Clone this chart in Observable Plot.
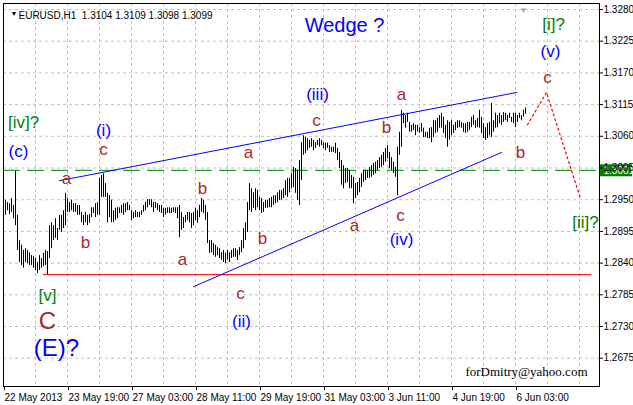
<!DOCTYPE html>
<html><head><meta charset="utf-8">
<script src="https://cdn.jsdelivr.net/npm/d3@7"></script>
<script src="https://cdn.jsdelivr.net/npm/@observablehq/plot@0.6"></script>
<style>body{margin:0;background:#fff;}</style>
</head><body><div id="chart"></div>
<script>
// EURUSD H1 bars (highs / lows), one per hour, weekend hours skipped
const barHigh = [
1.2949,1.2945,1.2943,1.2952,1.2940,1.2999,1.2923,1.2879,1.2871,1.2862,
1.2865,1.2862,1.2858,1.2853,1.2851,1.2848,1.2841,1.2853,1.2848,1.2857,
1.2862,1.2860,1.2905,1.2910,1.2905,1.2917,1.2900,1.2923,1.2923,1.2931,
1.2961,1.2952,1.2945,1.2949,1.2943,1.2943,1.2940,1.2940,1.2928,1.2923,
1.2928,1.2923,1.2924,1.2936,1.2936,1.2943,1.2945,1.2987,1.2992,1.2995,
1.2978,1.2961,1.2957,1.2949,1.2931,1.2935,1.2936,1.2936,1.2940,1.2943,
1.2943,1.2945,1.2940,1.2931,1.2928,1.2931,1.2928,1.2928,1.2931,1.2940,
1.2945,1.2950,1.2950,1.2950,1.2945,1.2945,1.2943,1.2940,1.2940,1.2935,
1.2935,1.2936,1.2936,1.2935,1.2936,1.2936,1.2936,1.2940,1.2928,1.2919,
1.2923,1.2928,1.2928,1.2926,1.2928,1.2935,1.2931,1.2940,1.2952,1.2949,
1.2940,1.2928,1.2879,1.2879,1.2874,1.2871,1.2867,1.2865,1.2858,1.2862,
1.2857,1.2862,1.2858,1.2862,1.2865,1.2865,1.2862,1.2867,1.2879,1.2900,
1.2910,1.2945,1.2978,1.2969,1.2962,1.2969,1.2966,1.2954,1.2952,1.2945,
1.2949,1.2949,1.2952,1.2954,1.2957,1.2957,1.2962,1.2966,1.2966,1.2969,
1.2983,1.2987,1.2987,1.2995,1.3006,1.3004,1.3001,1.3018,1.3049,1.3061,
1.3058,1.3056,1.3053,1.3056,1.3053,1.3049,1.3053,1.3056,1.3053,1.3049,
1.3048,1.3048,1.3044,1.3041,1.3041,1.3048,1.3039,1.3032,1.3018,1.3009,
1.3004,1.3004,1.3001,1.2992,1.2989,1.2978,1.2980,1.2987,1.2995,1.3001,
1.3001,1.3001,1.3006,1.3009,1.3013,1.3015,1.3018,1.3023,1.3027,1.3032,
1.3039,1.3044,1.3032,1.3023,1.3015,1.3006,1.3041,1.3067,1.3105,1.3100,
1.3096,1.3100,1.3084,1.3079,1.3082,1.3079,1.3079,1.3075,1.3082,1.3074,
1.3067,1.3067,1.3074,1.3075,1.3087,1.3087,1.3091,1.3096,1.3100,1.3093,
1.3079,1.3087,1.3084,1.3087,1.3079,1.3084,1.3087,1.3087,1.3084,1.3082,
1.3082,1.3084,1.3084,1.3093,1.3096,1.3087,1.3091,1.3105,1.3093,1.3082,
1.3075,1.3082,1.3084,1.3117,1.3087,1.3100,1.3096,1.3100,1.3096,1.3101,
1.3100,1.3096,1.3100,1.3093,1.3100,1.3100,1.3096,1.3100,1.3096,1.3105,1.3109];
const barLow = [
1.2923,1.2931,1.2924,1.2928,1.2917,1.2905,1.2862,1.2841,1.2836,1.2831,
1.2841,1.2839,1.2836,1.2836,1.2831,1.2827,1.2822,1.2827,1.2831,1.2834,
1.2836,1.2820,1.2848,1.2865,1.2879,1.2883,1.2879,1.2897,1.2893,1.2900,
1.2905,1.2928,1.2928,1.2931,1.2928,1.2928,1.2923,1.2923,1.2910,1.2905,
1.2910,1.2905,1.2909,1.2919,1.2926,1.2919,1.2923,1.2923,1.2954,1.2954,
1.2954,1.2910,1.2919,1.2910,1.2910,1.2914,1.2917,1.2926,1.2926,1.2923,
1.2928,1.2931,1.2931,1.2914,1.2917,1.2919,1.2919,1.2919,1.2923,1.2928,
1.2931,1.2936,1.2940,1.2936,1.2928,1.2935,1.2931,1.2928,1.2926,1.2919,
1.2923,1.2926,1.2926,1.2926,1.2928,1.2926,1.2917,1.2884,1.2897,1.2900,
1.2910,1.2914,1.2910,1.2900,1.2905,1.2914,1.2909,1.2919,1.2928,1.2926,
1.2914,1.2874,1.2857,1.2858,1.2853,1.2850,1.2853,1.2848,1.2845,1.2841,
1.2839,1.2845,1.2841,1.2848,1.2850,1.2850,1.2845,1.2853,1.2858,1.2865,
1.2879,1.2893,1.2931,1.2928,1.2935,1.2931,1.2936,1.2931,1.2926,1.2928,
1.2935,1.2935,1.2936,1.2936,1.2940,1.2943,1.2945,1.2949,1.2949,1.2952,
1.2957,1.2954,1.2962,1.2969,1.2971,1.2961,1.2949,1.2940,1.2983,1.3027,
1.3030,1.3035,1.3039,1.3041,1.3035,1.3039,1.3044,1.3041,1.3044,1.3039,
1.3035,1.3039,1.3032,1.3032,1.3032,1.3030,1.3018,1.3004,1.2975,1.2969,
1.2978,1.2980,1.2969,1.2969,1.2943,1.2952,1.2957,1.2962,1.2971,1.2980,
1.2983,1.2987,1.2987,1.2989,1.2992,1.2995,1.3001,1.3004,1.3006,1.3009,
1.3015,1.3021,1.3004,1.3001,1.2995,1.2989,1.2957,1.3027,1.3041,1.3082,
1.3074,1.3084,1.3067,1.3067,1.3070,1.3061,1.3067,1.3065,1.3067,1.3058,
1.3058,1.3056,1.3056,1.3049,1.3058,1.3065,1.3067,1.3074,1.3074,1.3065,
1.3056,1.3041,1.3053,1.3061,1.3065,1.3070,1.3074,1.3075,1.3074,1.3067,
1.3065,1.3067,1.3070,1.3075,1.3079,1.3074,1.3075,1.3074,1.3065,1.3056,
1.3053,1.3056,1.3061,1.3058,1.3067,1.3074,1.3075,1.3082,1.3079,1.3084,
1.3087,1.3084,1.3091,1.3084,1.3082,1.3075,1.3084,1.3091,1.3087,1.3093,1.3098];

const yTicks = [1.3280,1.3225,1.3170,1.3115,1.3060,1.3005,1.2950,1.2895,1.2840,1.2785,1.2730,1.2675];
const xTickBars = [-1,31,63,95,127,159,191,223,255];
const xTickLabels = ["22 May 2013","23 May 19:00","27 May 03:00","28 May 11:00","29 May 19:00","31 May 03:00","3 Jun 11:00","4 Jun 19:00","6 Jun 03:00"];
const gridBars = [15,31,47,63,79,95,111,127,143,159,175,191,207,223,239,255,271,287];
const headerText = "EURUSD,H1  1.3104 1.3109 1.3098 1.3099";
const watermark = "forDmitry@yahoo.com";
const titleText = "Wedge ?";
const titleBar = 169.5, titlePrice = 1.3252;

// wedge lines, support, level, projection
const upperBar = [27, 255.5], upperPrice = [1.2983, 1.3136];
const lowerBar = [94, 248], lowerPrice = [1.2799, 1.3032];
const supportPrice = 1.2820, supportBars = [19, 293];
const levelPrice = 1.3001, levelLabel = "1.3001";
const projBar = [261, 270.5, 287.5], projPrice = [1.3080, 1.3136, 1.2952];

// wave labels
const brownText  = ["a","c","b","b","a","c","a","b","c","a","b","c","a","b","c"];
const brownBar   = [30.5,49,40,98.5,88.5,117.5,121.5,128.5,155.5,174.5,190.5,197.5,198,257.5,271];
const brownPrice = [1.2987,1.3037,1.2876,1.2969,1.2846,1.2787,1.3032,1.2883,1.3087,1.2905,1.3075,1.2923,1.3133,1.3032,1.3162];
const bigBrownText = ["C"], bigBrownBar = [21], bigBrownPrice = [1.2739];
const blueText  = ["(c)","(i)","(iii)","(ii)","(iv)","(v)"];
const blueBar   = [6.5,49,156,118,198,272.5];
const bluePrice = [1.3034,1.3070,1.3133,1.2739,1.2881,1.3207];
const bigBlueText = ["(E)?"], bigBlueBar = [25.5], bigBluePrice = [1.2692];
const greenText  = ["[iv]?","[v]","[i]?","[ii]?"];
const greenBar   = [9,21,274,290];
const greenPrice = [1.3084,1.2784,1.3254,1.2910];

const bars = barHigh.map((h, i) => i);
const tickMap = new Map(xTickBars.map((b, i) => [b, xTickLabels[i]]));
const pts = (bs, ps) => bs.map((b, i) => ({b, p: ps[i]}));
const F = "Liberation Sans, Arial, sans-serif";
const brown = "#a52a2a";

const chart = Plot.plot({
  width: 633, height: 405,
  marginLeft: 3, marginRight: 34, marginTop: 3, marginBottom: 19,
  x: {type: "linear", domain: [-1, 297], label: null},
  y: {type: "linear", domain: [1.26259, 1.32904], label: null},
  style: {background: "white", fontFamily: F, fontSize: "10px", color: "black", overflow: "visible"},
  marks: [
    Plot.gridY(yTicks, {stroke: "#c0c0c0", strokeOpacity: 1, strokeDasharray: "3,3"}),
    Plot.gridX(gridBars, {stroke: "#c0c0c0", strokeOpacity: 1, strokeDasharray: "3,3"}),
    Plot.ruleY([levelPrice], {stroke: "#008000", strokeDasharray: "17,7"}),
    Plot.ruleY([supportPrice], {x1: supportBars[0], x2: supportBars[1], stroke: "red"}),
    Plot.line(pts(upperBar, upperPrice), {x: "b", y: "p", stroke: "blue", strokeWidth: 1}),
    Plot.line(pts(lowerBar, lowerPrice), {x: "b", y: "p", stroke: "blue", strokeWidth: 1}),
    Plot.ruleX(bars, {x: d => d, y1: d => barLow[d], y2: d => barHigh[d], stroke: "black", strokeWidth: 1}),
    Plot.line(pts(projBar, projPrice), {x: "b", y: "p", stroke: "red", strokeWidth: 1.2, strokeDasharray: "2,3"}),
    Plot.frame({stroke: "black"}),
    // current level label box
    Plot.ruleY([levelPrice], {x1: 297.5, x2: 313.5, stroke: "#008000", strokeWidth: 12}),
    Plot.text([levelLabel], {x: 297, y: levelPrice, dx: 4, textAnchor: "start", fill: "white", fontSize: 10}),
    Plot.axisY(yTicks, {anchor: "right", tickSize: 3, tickPadding: 1, tickFormat: d => d.toFixed(4), fontSize: 10}),
    Plot.axisX(xTickBars, {anchor: "bottom", tickSize: 4, tickPadding: 3, tickFormat: d => tickMap.get(d), textAnchor: "start", dx: 1, fontSize: 10}),
    // header & watermark
    Plot.text(["▼"], {frameAnchor: "top-left", dx: 7, dy: 8, fontSize: 7, textAnchor: "start"}),
    Plot.text([headerText], {frameAnchor: "top-left", dx: 15, dy: 8, textAnchor: "start", fontSize: 10}),
    Plot.text(["▼"], {x: 259, frameAnchor: "top", dy: 4, fill: "#a0a0a0", fontSize: 8}),
    Plot.text([watermark], {frameAnchor: "bottom-right", dx: -12, dy: -11, textAnchor: "end", fontFamily: "Liberation Serif, Times New Roman, serif", fontSize: 13}),
    Plot.text([titleText], {x: titleBar, y: titlePrice, fill: "blue", fontSize: 20, fontFamily: F}),
    // wave labels
    Plot.text(brownText, {x: (d, i) => brownBar[i], y: (d, i) => brownPrice[i], text: d => d, fill: brown, fontSize: 17, fontFamily: F}),
    Plot.text(bigBrownText, {x: (d, i) => bigBrownBar[i], y: (d, i) => bigBrownPrice[i], text: d => d, fill: brown, fontSize: 24, fontFamily: F}),
    Plot.text(blueText, {x: (d, i) => blueBar[i], y: (d, i) => bluePrice[i], text: d => d, fill: "blue", fontSize: 17, fontFamily: F}),
    Plot.text(bigBlueText, {x: (d, i) => bigBlueBar[i], y: (d, i) => bigBluePrice[i], text: d => d, fill: "blue", fontSize: 24, fontFamily: F}),
    Plot.text(greenText, {x: (d, i) => greenBar[i], y: (d, i) => greenPrice[i], text: d => d, fill: "#008000", fontSize: 17, fontFamily: F})
  ]
});
document.getElementById("chart").appendChild(chart);
</script>
</body></html>
